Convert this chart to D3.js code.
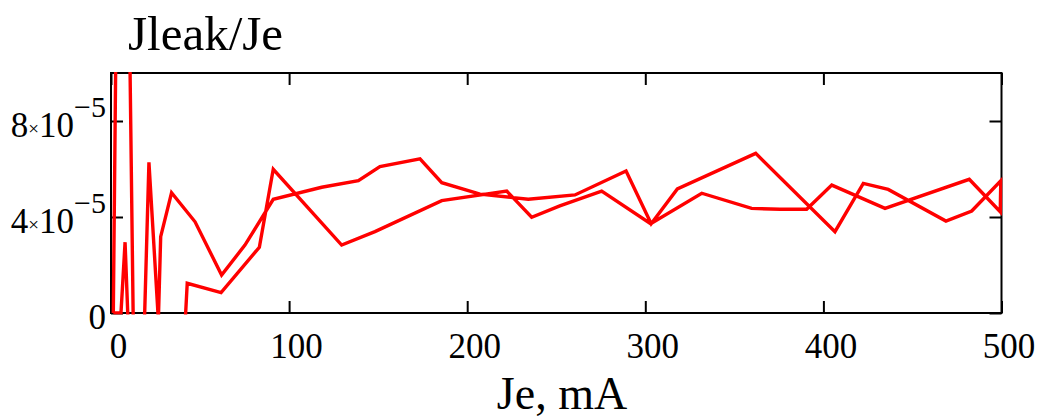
<!DOCTYPE html>
<html><head><meta charset="utf-8">
<script src="https://cdn.jsdelivr.net/npm/d3@7"></script>
<style>
body{margin:0;background:#fff}
svg{display:block}
text{font-family:"Liberation Serif","Times New Roman",serif;fill:#000}
</style>
</head><body>
<svg id="c" width="1040" height="419"></svg>
<script>
// forward sweep (Je increasing), mA  /  Jleak/Je ratio
const sweepUpJe = [1.3, 5.6, 7.9, 9.4, 11.5, 18.8, 21.3, 26.6, 27.9, 34, 47.2, 62.1, 75.2, 91.1, 118.3, 138.9, 151, 173.5, 185.7, 207.2, 234.3, 260.5, 289.2, 303.3, 318, 362, 406.5, 422.4, 436.4, 468.8, 483.3, 499.6];
const sweepUpRatio = [0, 0, 2.95e-5, 0, -3e-5, -0.3e-5, 6.28e-5, -0.3e-5, 3.18e-5, 5.01e-5, 3.8e-5, 1.58e-5, 2.83e-5, 4.74e-5, 5.24e-5, 5.51e-5, 6.1e-5, 6.42e-5, 5.43e-5, 4.95e-5, 4.74e-5, 4.92e-5, 5.92e-5, 3.72e-5, 5.17e-5, 6.65e-5, 3.39e-5, 5.4e-5, 5.15e-5, 3.83e-5, 4.25e-5, 5.51e-5];
// backward sweep (Je decreasing)
const sweepDownJe = [499.3, 481.9, 434.6, 404.7, 390.6, 375.6, 359.7, 331.7, 303, 275.5, 252, 236.2, 222.2, 185.7, 148.2, 129.5, 91.1, 83.3, 61.8, 42.8, 40.5, 12.6, 6.1, 1.3];
const sweepDownRatio = [4.22e-5, 5.57e-5, 4.36e-5, 5.33e-5, 4.32e-5, 4.32e-5, 4.36e-5, 4.99e-5, 3.72e-5, 5.08e-5, 4.46e-5, 3.99e-5, 5.08e-5, 4.68e-5, 3.39e-5, 2.83e-5, 5.99e-5, 2.74e-5, 0.85e-5, 1.24e-5, -2e-5, -1e-5, 3.7e-4, 0];

const xTickValues = [0, 100, 200, 300, 400, 500];
const yTickValues = [0, 4e-5, 8e-5];
const yTickMantissa = ["0", "4", "8"];
const yTickExponent = ["", "\u22125", "\u22125"];
const chartTitle = "Jleak/Je";
const xAxisTitle = "Je, mA";

const svg = d3.select("#c");
const P = {left: 111, right: 1001.5, top: 73, bottom: 313};
const x = d3.scaleLinear().domain([0, 500]).range([P.left, P.right]);
const y = d3.scaleLinear().domain([0, 1e-4]).range([P.bottom, P.top]);

// frame
svg.append("rect")
  .attr("x", P.left).attr("y", P.top)
  .attr("width", P.right - P.left).attr("height", P.bottom - P.top)
  .attr("fill", "none").attr("stroke", "#000").attr("stroke-width", 2);

function styleAxis(g) {
  g.select(".domain").remove();
  g.selectAll(".tick line").attr("stroke", "#000").attr("stroke-width", 2);
}
// bottom axis with labels
const gb = svg.append("g").attr("transform", `translate(0,${P.bottom})`)
  .call(d3.axisBottom(x).tickValues(xTickValues).tickSize(-12).tickFormat(d3.format("d")));
styleAxis(gb);
gb.selectAll(".tick text")
  .attr("x", 7).attr("y", 45).attr("dy", null)
  .attr("font-size", 35).attr("font-family", "Liberation Serif").attr("fill", "#000");
// top axis
const gt = svg.append("g").attr("transform", `translate(0,${P.top})`)
  .call(d3.axisTop(x).tickValues(xTickValues).tickSize(-12).tickFormat(""));
styleAxis(gt);
// left axis
const gl = svg.append("g").attr("transform", `translate(${P.left},0)`)
  .call(d3.axisLeft(y).tickValues(yTickValues).tickSize(-12).tickFormat(""));
styleAxis(gl);
// right axis
const gr = svg.append("g").attr("transform", `translate(${P.right},0)`)
  .call(d3.axisRight(y).tickValues(yTickValues).tickSize(-12).tickFormat(""));
styleAxis(gr);

// y tick labels  m×10^e
yTickValues.forEach((v, i) => {
  const t = svg.append("text")
    .attr("x", 106).attr("y", y(v) + 16)
    .attr("text-anchor", "end").attr("font-size", 35);
  t.append("tspan").text(yTickMantissa[i]);
  if (yTickExponent[i]) {
    t.append("tspan").attr("font-size", 19).attr("dy", -2).text("\u00d7");
    t.append("tspan").attr("font-size", 35).attr("dy", 2).text("10");
    t.append("tspan").attr("font-size", 30).attr("dy", -20).text(yTickExponent[i]);
  }
});

// titles
svg.append("text").attr("x", 128).attr("y", 50).attr("font-size", 49).text(chartTitle);
svg.append("text").attr("x", 562).attr("y", 409).attr("text-anchor", "middle")
  .attr("font-size", 46).text(xAxisTitle);

// data line
svg.append("clipPath").attr("id", "clip").append("rect")
  .attr("x", P.left).attr("y", P.top - 1)
  .attr("width", P.right - P.left + 1).attr("height", P.bottom - P.top + 2.5);

const pts = sweepUpJe.map((j, i) => ({je: j, r: sweepUpRatio[i]}))
  .concat(sweepDownJe.map((j, i) => ({je: j, r: sweepDownRatio[i]})));
const line = d3.line().x(d => x(d.je)).y(d => y(d.r));
svg.append("path")
  .datum(pts)
  .attr("clip-path", "url(#clip)")
  .attr("d", line)
  .attr("fill", "none").attr("stroke", "#ff0000")
  .attr("stroke-width", 3.4).attr("stroke-linejoin", "miter").attr("stroke-miterlimit", 3);
</script>
</body></html>
